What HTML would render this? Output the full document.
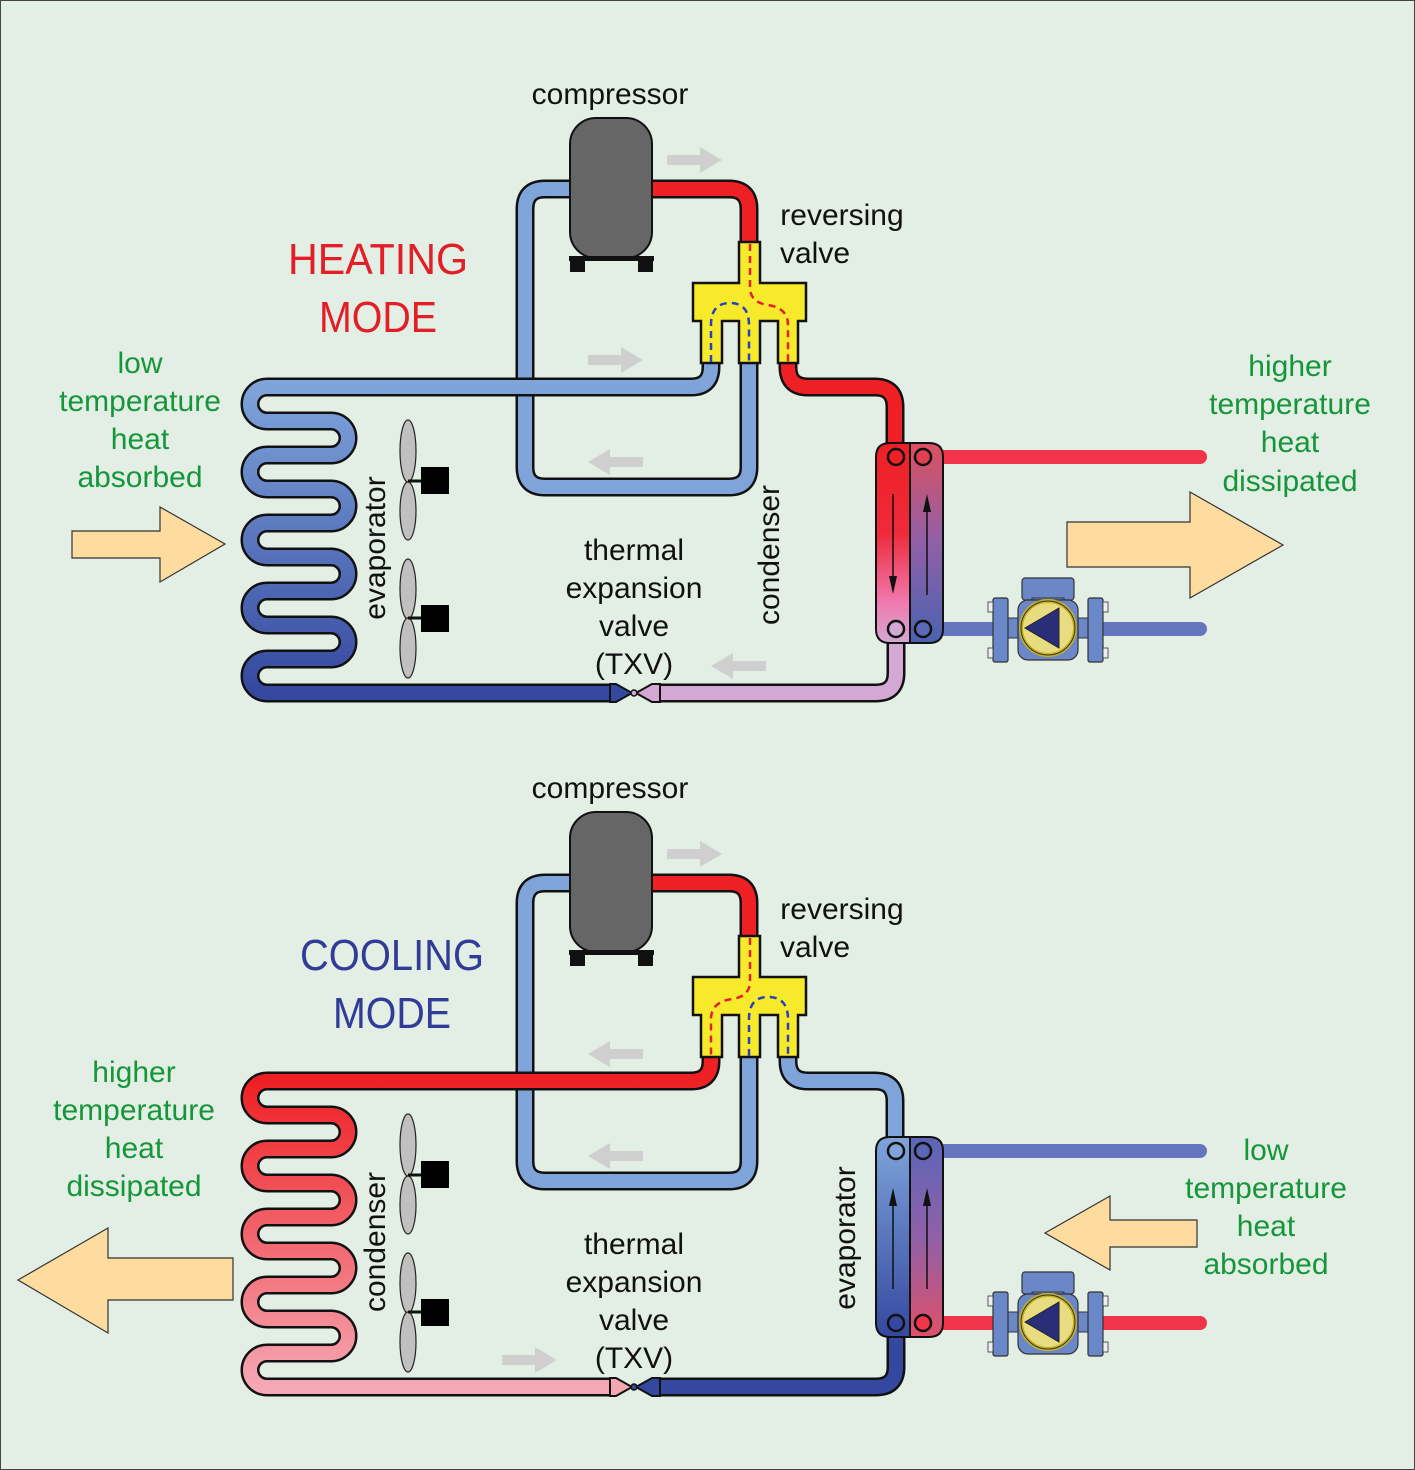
<!DOCTYPE html>
<html><head><meta charset="utf-8"><style>
html,body{margin:0;padding:0;background:#e3eee5}
svg{display:block}
text{font-family:"Liberation Sans",sans-serif}
</style></head><body>
<svg width="1415" height="1470" viewBox="0 0 1415 1470" xmlns="http://www.w3.org/2000/svg">
<defs>
<linearGradient id="coilB" gradientUnits="userSpaceOnUse" x1="0" y1="387" x2="0" y2="693"><stop offset="0" stop-color="#7ea4da"/><stop offset="1" stop-color="#3548a0"/></linearGradient>
<linearGradient id="coilR" gradientUnits="userSpaceOnUse" x1="0" y1="387" x2="0" y2="693"><stop offset="0" stop-color="#ee2024"/><stop offset="1" stop-color="#f5a8b4"/></linearGradient>
<linearGradient id="hxL1" x1="0" y1="0" x2="0" y2="1"><stop offset="0" stop-color="#ee2024"/><stop offset="0.45" stop-color="#ee2a3a"/><stop offset="0.8" stop-color="#f07ab0"/><stop offset="1" stop-color="#d4a8d4"/></linearGradient>
<linearGradient id="hxR1" x1="0" y1="0" x2="0" y2="1"><stop offset="0" stop-color="#dd5060"/><stop offset="0.5" stop-color="#9060a8"/><stop offset="1" stop-color="#4a62b0"/></linearGradient>
<linearGradient id="hxL2" x1="0" y1="0" x2="0" y2="1"><stop offset="0" stop-color="#7ea4da"/><stop offset="1" stop-color="#3548a0"/></linearGradient>
<linearGradient id="hxR2" x1="0" y1="0" x2="0" y2="1"><stop offset="0" stop-color="#5a66b8"/><stop offset="0.5" stop-color="#9060a8"/><stop offset="1" stop-color="#e05068"/></linearGradient>
<g id="pump">
 <rect x="-26" y="-50" width="52" height="22" rx="3" fill="#6a88c8" stroke="#333" stroke-width="1.2"/>
 <rect x="-16" y="-30" width="32" height="6" fill="#6a88c8" stroke="#333" stroke-width="1"/>
 <rect x="-50" y="-10" width="100" height="20" fill="#6a88c8" stroke="#333" stroke-width="1"/>
 <rect x="-55" y="-30" width="15" height="64" rx="2" fill="#6a88c8" stroke="#333" stroke-width="1.2"/>
 <rect x="40" y="-30" width="15" height="64" rx="2" fill="#6a88c8" stroke="#333" stroke-width="1.2"/>
 <rect x="-60" y="-26" width="5" height="10" fill="#eee" stroke="#333" stroke-width="0.8"/><rect x="-60" y="20" width="5" height="10" fill="#eee" stroke="#333" stroke-width="0.8"/>
 <rect x="55" y="-26" width="5" height="10" fill="#eee" stroke="#333" stroke-width="0.8"/><rect x="55" y="20" width="5" height="10" fill="#eee" stroke="#333" stroke-width="0.8"/>
 <rect x="-30" y="-28" width="60" height="60" rx="10" fill="#6a88c8" stroke="#333" stroke-width="1.2"/>
 <circle r="27" fill="#e8dc80" stroke="#c8b020" stroke-width="4"/>
 <circle r="27" fill="none" stroke="#333" stroke-width="1"/>
 <polygon points="-23,0 11,-20 11,20" fill="#2a2e78" stroke="#222" stroke-width="1"/>
</g>
</defs>
<rect x="0.5" y="0.5" width="1414" height="1469" fill="#e3eee5" stroke="#444" stroke-width="1"/>

<!-- ============ TOP: HEATING ============ -->
<g>
 <path d="M570,189 H545 Q525,189 525,209 V467 Q525,487 545,487 H729 Q749,487 749,467 V362" fill="none" stroke="#111" stroke-width="19"/>
 <path d="M570,189 H545 Q525,189 525,209 V467 Q525,487 545,487 H729 Q749,487 749,467 V362" fill="none" stroke="#7ea4da" stroke-width="14"/>
 <path d="M652,189 H729 Q749,189 749,209 V244" fill="none" stroke="#111" stroke-width="19"/>
 <path d="M652,189 H729 Q749,189 749,209 V244" fill="none" stroke="#ee2024" stroke-width="14"/>
 <path d="M711,362 V367 Q711,387 691,387 H267 A17,17 0 0 0 267,421 H331 A17,17 0 0 1 331,455 H267 A17,17 0 0 0 267,489 H331 A17,17 0 0 1 331,523 H267 A17,17 0 0 0 267,557 H331 A17,17 0 0 1 331,591 H267 A17,17 0 0 0 267,625 H331 A17,17 0 0 1 331,659 H267 A17,17 0 0 0 267,693 H612" fill="none" stroke="#111" stroke-width="19"/>
 <path d="M711,362 V367 Q711,387 691,387 H267 A17,17 0 0 0 267,421 H331 A17,17 0 0 1 331,455 H267 A17,17 0 0 0 267,489 H331 A17,17 0 0 1 331,523 H267 A17,17 0 0 0 267,557 H331 A17,17 0 0 1 331,591 H267 A17,17 0 0 0 267,625 H331 A17,17 0 0 1 331,659 H267 A17,17 0 0 0 267,693 H612" fill="none" stroke="url(#coilB)" stroke-width="14"/>
 <polygon points="610,684 616,684 632,693 616,702 610,702" fill="#3548a0" stroke="#111" stroke-width="2"/>
 <path d="M788,362 V367 Q788,387 808,387 H875 Q895,387 895,407 V460" fill="none" stroke="#111" stroke-width="19"/>
 <path d="M788,362 V367 Q788,387 808,387 H875 Q895,387 895,407 V460" fill="none" stroke="#ee2024" stroke-width="14"/>
 <path d="M896,620 V673 Q896,693 876,693 H658" fill="none" stroke="#111" stroke-width="19"/>
 <path d="M896,620 V673 Q896,693 876,693 H658" fill="none" stroke="#d4a8d4" stroke-width="14"/>
 <polygon points="660,684 652,684 636,693 652,702 660,702" fill="#d4a8d4" stroke="#111" stroke-width="2"/>
 <circle cx="634" cy="693" r="3" fill="#d4a8d4" stroke="#111" stroke-width="1.5"/>
 <path d="M739,242 H760 V283 H806 V321 H798 V363 H778 V321 H760 V363 H739 V321 H722 V363 H701 V321 H693 V283 H739 Z" fill="#f7ea2a" stroke="#111" stroke-width="2.5"/>
 <path d="M750,244 V290 Q752,303 768,305 Q788,308 788,325 V362" fill="none" stroke="#e02030" stroke-width="2.5" stroke-dasharray="7,5"/>
 <path d="M711,362 V325 Q711,303 730,303 Q749,303 749,325 V362" fill="none" stroke="#2840c0" stroke-width="2.5" stroke-dasharray="7,5"/>
 <rect x="570" y="118" width="82" height="140" rx="26" fill="#666" stroke="#111" stroke-width="2"/>
 <rect x="569" y="256" width="85" height="5" fill="#111"/>
 <rect x="570" y="258" width="15" height="14" fill="#111"/><rect x="638" y="258" width="15" height="14" fill="#111"/>
 <ellipse cx="408" cy="451" rx="8" ry="31" fill="#c0c0c0" stroke="#222" stroke-width="1.2"/>
 <ellipse cx="408" cy="511" rx="8" ry="29" fill="#c0c0c0" stroke="#222" stroke-width="1.2"/>
 <line x1="408" y1="481" x2="424" y2="481" stroke="#111" stroke-width="3"/>
 <rect x="421" y="467" width="28" height="27" fill="#000"/>
 <ellipse cx="408" cy="589" rx="8" ry="30" fill="#c0c0c0" stroke="#222" stroke-width="1.2"/>
 <ellipse cx="408" cy="648" rx="8" ry="30" fill="#c0c0c0" stroke="#222" stroke-width="1.2"/>
 <line x1="408" y1="618" x2="424" y2="618" stroke="#111" stroke-width="3"/>
 <rect x="421" y="605" width="28" height="27" fill="#000"/>
 <line x1="923" y1="457" x2="1200" y2="457" stroke="#f0344a" stroke-width="14" stroke-linecap="round"/>
 <line x1="923" y1="629" x2="1200" y2="629" stroke="#6676be" stroke-width="14" stroke-linecap="round"/>
 <path d="M910,443 H890 Q876,443 876,457 V629 Q876,643 890,643 H910 Z" fill="url(#hxL1)" stroke="#111" stroke-width="2"/>
 <path d="M910,443 H929 Q943,443 943,457 V629 Q943,643 929,643 H910 Z" fill="url(#hxR1)" stroke="#111" stroke-width="2"/>
 <circle cx="896" cy="457" r="8" fill="#ee2024" stroke="#111" stroke-width="2.5"/>
 <circle cx="923" cy="457" r="8" fill="#e04050" stroke="#111" stroke-width="2.5"/>
 <circle cx="896" cy="629" r="8" fill="#d4a8d4" stroke="#111" stroke-width="2.5"/>
 <circle cx="923" cy="629" r="8" fill="#5a6ab8" stroke="#111" stroke-width="2.5"/>
 <line x1="893" y1="494" x2="893" y2="580" stroke="#111" stroke-width="1.5"/><polygon points="889,576 897,576 893,594" fill="#111"/>
 <line x1="927" y1="595" x2="927" y2="510" stroke="#111" stroke-width="1.5"/><polygon points="923,512 931,512 927,494" fill="#111"/>
 <use href="#pump" x="1048" y="628"/>
 <polygon points="667,155 700,155 700,147 722,160 700,173 700,165 667,165" fill="#cfcfcf"/>
 <polygon points="588,355 621,355 621,347 643,360 621,373 621,365 588,365" fill="#cfcfcf"/>
 <polygon points="643,457 610,457 610,449 588,462 610,475 610,467 643,467" fill="#cfcfcf"/>
 <polygon points="766,661 733,661 733,653 711,666 733,679 733,671 766,671" fill="#cfcfcf"/>
 <polygon points="72,531 160,531 160,507 225,544 160,582 160,558 72,558" fill="#fedb9e" stroke="#333" stroke-width="1.2"/>
 <polygon points="1067,522 1190,522 1190,492 1283,545 1190,598 1190,567 1067,567" fill="#fedb9e" stroke="#333" stroke-width="1.2"/>
 <g font-size="30" fill="#111" text-anchor="middle">
  <text x="610" y="104">compressor</text>
  <text x="842" y="225">reversing</text>
  <text x="815" y="263">valve</text>
  <text x="634" y="560">thermal</text>
  <text x="634" y="598">expansion</text>
  <text x="634" y="636">valve</text>
  <text x="634" y="674">(TXV)</text>
  <text transform="translate(385,548) rotate(-90)">evaporator</text>
  <text transform="translate(779,555) rotate(-90)">condenser</text>
 </g>
 <g font-size="30" fill="#16963a" text-anchor="middle">
  <text x="140" y="373">low</text><text x="140" y="411">temperature</text><text x="140" y="449">heat</text><text x="140" y="487">absorbed</text>
  <text x="1290" y="376">higher</text><text x="1290" y="414">temperature</text><text x="1290" y="452">heat</text><text x="1290" y="491">dissipated</text>
 </g>
 <g font-size="44" fill="#e21e26" text-anchor="middle">
  <text x="378" y="274" textLength="180" lengthAdjust="spacingAndGlyphs">HEATING</text>
  <text x="378" y="332" textLength="118" lengthAdjust="spacingAndGlyphs">MODE</text>
 </g>
</g>

<!-- ============ BOTTOM: COOLING ============ -->
<g transform="translate(0,694)">
 <path d="M570,189 H545 Q525,189 525,209 V467 Q525,487 545,487 H729 Q749,487 749,467 V362" fill="none" stroke="#111" stroke-width="19"/>
 <path d="M570,189 H545 Q525,189 525,209 V467 Q525,487 545,487 H729 Q749,487 749,467 V362" fill="none" stroke="#7ea4da" stroke-width="14"/>
 <path d="M652,189 H729 Q749,189 749,209 V244" fill="none" stroke="#111" stroke-width="19"/>
 <path d="M652,189 H729 Q749,189 749,209 V244" fill="none" stroke="#ee2024" stroke-width="14"/>
 <path d="M711,362 V367 Q711,387 691,387 H267 A17,17 0 0 0 267,421 H331 A17,17 0 0 1 331,455 H267 A17,17 0 0 0 267,489 H331 A17,17 0 0 1 331,523 H267 A17,17 0 0 0 267,557 H331 A17,17 0 0 1 331,591 H267 A17,17 0 0 0 267,625 H331 A17,17 0 0 1 331,659 H267 A17,17 0 0 0 267,693 H612" fill="none" stroke="#111" stroke-width="19"/>
 <path d="M711,362 V367 Q711,387 691,387 H267 A17,17 0 0 0 267,421 H331 A17,17 0 0 1 331,455 H267 A17,17 0 0 0 267,489 H331 A17,17 0 0 1 331,523 H267 A17,17 0 0 0 267,557 H331 A17,17 0 0 1 331,591 H267 A17,17 0 0 0 267,625 H331 A17,17 0 0 1 331,659 H267 A17,17 0 0 0 267,693 H612" fill="none" stroke="url(#coilR)" stroke-width="14"/>
 <polygon points="610,684 616,684 632,693 616,702 610,702" fill="#f5a8b4" stroke="#111" stroke-width="2"/>
 <path d="M788,362 V367 Q788,387 808,387 H875 Q895,387 895,407 V460" fill="none" stroke="#111" stroke-width="19"/>
 <path d="M788,362 V367 Q788,387 808,387 H875 Q895,387 895,407 V460" fill="none" stroke="#7ea4da" stroke-width="14"/>
 <path d="M896,620 V673 Q896,693 876,693 H658" fill="none" stroke="#111" stroke-width="19"/>
 <path d="M896,620 V673 Q896,693 876,693 H658" fill="none" stroke="#3548a0" stroke-width="14"/>
 <polygon points="660,684 652,684 636,693 652,702 660,702" fill="#3548a0" stroke="#111" stroke-width="2"/>
 <circle cx="634" cy="693" r="3" fill="#3548a0" stroke="#111" stroke-width="1.5"/>
 <path d="M739,242 H760 V283 H806 V321 H798 V363 H778 V321 H760 V363 H739 V321 H722 V363 H701 V321 H693 V283 H739 Z" fill="#f7ea2a" stroke="#111" stroke-width="2.5"/>
 <path d="M750,244 V290 Q748,303 732,305 Q711,308 711,325 V362" fill="none" stroke="#e02030" stroke-width="2.5" stroke-dasharray="7,5"/>
 <path d="M749,362 V325 Q749,303 768,303 Q788,303 788,325 V362" fill="none" stroke="#2840c0" stroke-width="2.5" stroke-dasharray="7,5"/>
 <rect x="570" y="118" width="82" height="140" rx="26" fill="#666" stroke="#111" stroke-width="2"/>
 <rect x="569" y="256" width="85" height="5" fill="#111"/>
 <rect x="570" y="258" width="15" height="14" fill="#111"/><rect x="638" y="258" width="15" height="14" fill="#111"/>
 <ellipse cx="408" cy="451" rx="8" ry="31" fill="#c0c0c0" stroke="#222" stroke-width="1.2"/>
 <ellipse cx="408" cy="511" rx="8" ry="29" fill="#c0c0c0" stroke="#222" stroke-width="1.2"/>
 <line x1="408" y1="481" x2="424" y2="481" stroke="#111" stroke-width="3"/>
 <rect x="421" y="467" width="28" height="27" fill="#000"/>
 <ellipse cx="408" cy="589" rx="8" ry="30" fill="#c0c0c0" stroke="#222" stroke-width="1.2"/>
 <ellipse cx="408" cy="648" rx="8" ry="30" fill="#c0c0c0" stroke="#222" stroke-width="1.2"/>
 <line x1="408" y1="618" x2="424" y2="618" stroke="#111" stroke-width="3"/>
 <rect x="421" y="605" width="28" height="27" fill="#000"/>
 <line x1="923" y1="457" x2="1200" y2="457" stroke="#6676be" stroke-width="14" stroke-linecap="round"/>
 <line x1="923" y1="629" x2="1200" y2="629" stroke="#f0344a" stroke-width="14" stroke-linecap="round"/>
 <path d="M910,443 H890 Q876,443 876,457 V629 Q876,643 890,643 H910 Z" fill="url(#hxL2)" stroke="#111" stroke-width="2"/>
 <path d="M910,443 H929 Q943,443 943,457 V629 Q943,643 929,643 H910 Z" fill="url(#hxR2)" stroke="#111" stroke-width="2"/>
 <circle cx="896" cy="457" r="8" fill="#7ea4da" stroke="#111" stroke-width="2.5"/>
 <circle cx="923" cy="457" r="8" fill="#5a66b8" stroke="#111" stroke-width="2.5"/>
 <circle cx="896" cy="629" r="8" fill="#3548a0" stroke="#111" stroke-width="2.5"/>
 <circle cx="923" cy="629" r="8" fill="#f0344a" stroke="#111" stroke-width="2.5"/>
 <line x1="893" y1="595" x2="893" y2="510" stroke="#111" stroke-width="1.5"/><polygon points="889,512 897,512 893,494" fill="#111"/>
 <line x1="927" y1="595" x2="927" y2="510" stroke="#111" stroke-width="1.5"/><polygon points="923,512 931,512 927,494" fill="#111"/>
 <use href="#pump" x="1048" y="628"/>
 <polygon points="667,155 700,155 700,147 722,160 700,173 700,165 667,165" fill="#cfcfcf"/>
 <polygon points="643,355 610,355 610,347 588,360 610,373 610,365 643,365" fill="#cfcfcf"/>
 <polygon points="643,457 610,457 610,449 588,462 610,475 610,467 643,467" fill="#cfcfcf"/>
 <polygon points="502,661 535,661 535,653 557,666 535,679 535,671 502,671" fill="#cfcfcf"/>
 <polygon points="233,564 108,564 108,534 18,586 108,639 108,606 233,606" fill="#fedb9e" stroke="#333" stroke-width="1.2"/>
 <polygon points="1197,526 1110,526 1110,502 1045,539 1110,576 1110,553 1197,553" fill="#fedb9e" stroke="#333" stroke-width="1.2"/>
 <g font-size="30" fill="#111" text-anchor="middle">
  <text x="610" y="104">compressor</text>
  <text x="842" y="225">reversing</text>
  <text x="815" y="263">valve</text>
  <text x="634" y="560">thermal</text>
  <text x="634" y="598">expansion</text>
  <text x="634" y="636">valve</text>
  <text x="634" y="674">(TXV)</text>
  <text transform="translate(385,548) rotate(-90)">condenser</text>
  <text transform="translate(855,544) rotate(-90)">evaporator</text>
 </g>
 <g font-size="30" fill="#16963a" text-anchor="middle">
  <text x="134" y="388">higher</text><text x="134" y="426">temperature</text><text x="134" y="464">heat</text><text x="134" y="502">dissipated</text>
  <text x="1266" y="466">low</text><text x="1266" y="504">temperature</text><text x="1266" y="542">heat</text><text x="1266" y="580">absorbed</text>
 </g>
 <g font-size="44" fill="#303c98" text-anchor="middle">
  <text x="392" y="276" textLength="184" lengthAdjust="spacingAndGlyphs">COOLING</text>
  <text x="392" y="334" textLength="118" lengthAdjust="spacingAndGlyphs">MODE</text>
 </g>
</g>
</svg>
</body></html>
